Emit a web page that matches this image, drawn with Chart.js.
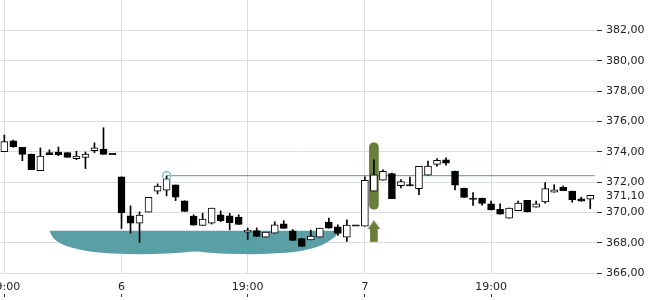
<!DOCTYPE html>
<html>
<head>
<meta charset="utf-8">
<script src="https://cdn.jsdelivr.net/npm/chart.js@4.4.1/dist/chart.umd.min.js"></script>
<style>
  html, body { margin: 0; padding: 0; background: #fff; }
  #wrap { width: 650px; height: 300px; }
</style>
</head>
<body>
<div id="wrap"><canvas id="chart"></canvas></div>
<script>
// candles, one per period, index = position on the x axis
const opens  = [374.01, 374.72, 374.30, 373.86, 372.76, 373.95, 373.99, 373.95, 373.55, 373.64,
                374.08, 374.19, 373.86, 372.35, 369.78, 369.30, 370.03, 371.41, 371.47, 371.82,
                370.77, 369.76, 369.15, 369.30, 369.85, 369.78, 369.70, 368.71, 368.82, 368.38,
                368.64, 369.26, 368.80, 368.29, 368.20, 368.38, 369.37, 369.06, 368.38, 369.15,
                369.10, 371.41, 372.13, 372.57, 371.78, 371.80, 371.58, 372.46, 373.18, 373.47,
                372.74, 371.60, 370.91, 370.96, 370.57, 370.22, 369.63, 370.13, 370.81, 370.36,
                370.70, 371.34, 371.67, 371.41, 370.90, 370.88];
const highs  = [375.11, 374.78, 374.30, 373.86, 374.26, 374.13, 374.32, 373.95, 374.04, 373.99,
                374.59, 375.59, 373.86, 372.35, 370.44, 370.05, 371.01, 371.89, 372.41, 371.82,
                370.77, 369.85, 369.96, 370.29, 370.11, 369.95, 369.85, 368.97, 368.99, 368.71,
                369.39, 369.47, 368.88, 368.29, 368.84, 368.97, 369.63, 369.19, 369.52, 369.15,
                372.35, 373.47, 372.81, 372.60, 372.17, 372.33, 373.05, 373.40, 373.55, 373.60,
                372.74, 371.62, 371.32, 370.96, 370.75, 370.57, 370.29, 370.75, 370.81, 370.75,
                371.97, 371.84, 371.76, 371.41, 371.01, 371.14];
const lows   = [374.01, 374.30, 373.42, 372.83, 372.76, 373.82, 373.75, 373.64, 373.49, 372.90,
                373.95, 373.84, 373.86, 368.95, 368.64, 368.03, 370.03, 371.23, 371.10, 370.79,
                370.07, 369.17, 369.15, 369.24, 369.40, 368.86, 369.21, 368.20, 368.42, 368.38,
                368.64, 368.95, 368.16, 367.76, 368.20, 368.38, 368.97, 368.49, 368.09, 369.15,
                369.10, 371.41, 372.13, 370.92, 371.62, 371.76, 371.18, 372.46, 373.05, 373.12,
                371.49, 370.99, 370.47, 370.49, 370.18, 369.89, 369.63, 370.13, 370.04, 370.36,
                370.62, 371.34, 371.45, 370.68, 370.75, 370.26];
const closes = [374.67, 374.35, 373.84, 372.83, 373.73, 373.82, 373.82, 373.64, 373.73, 373.86,
                374.26, 373.84, 373.86, 370.00, 369.30, 369.83, 371.01, 371.74, 372.22, 371.01,
                370.07, 369.17, 369.57, 370.29, 369.47, 369.34, 369.21, 368.84, 368.42, 368.71,
                369.19, 368.95, 368.16, 367.76, 368.45, 368.97, 368.97, 368.62, 369.17, 369.15,
                372.13, 372.48, 372.72, 370.92, 372.04, 371.80, 373.05, 373.07, 373.45, 373.25,
                371.80, 370.99, 370.91, 370.60, 370.18, 369.89, 370.29, 370.62, 370.04, 370.57,
                371.58, 371.49, 371.45, 370.84, 370.75, 371.14];

// x axis labels sit on these candle indexes
const tickIndexes = [0, 13, 27, 40, 54];
const tickLabels  = ['19:00', '6', '19:00', '7', '19:00'];
const priceTicks  = [366, 368, 370, 371.1, 372, 374, 376, 378, 380, 382];

// horizontal level + its anchor
const levelPrice = 372.43;
const levelFrom = 18;
const levelTo = 65.5;

// teal zone: flat top, lower edge
const zoneTop = 368.80;
const zoneX = [4.99, 5.44, 6.18, 7.65, 9.51, 12.09, 15.05, 18.01, 19.86, 21.15,
               22.45, 24.67, 27.62, 30.58, 33.17, 35.02, 36.13, 36.87, 37.13];
const zoneY = [368.80, 368.32, 367.99, 367.66, 367.43, 367.30, 367.26, 367.30, 367.37, 367.43,
               367.37, 367.28, 367.26, 367.33, 367.50, 367.81, 368.16, 368.53, 368.80];

// green signal bar and arrow
const signalIndex = 41;
const signalBar = [370.22, 374.60];
const arrowStem = [368.09, 368.95];
const arrowHead = 369.19;

const GREEN = '#6a7e3b';

const bodies = opens.map((o, i) => {
    const c = closes[i];
    if (Math.abs(c - o) < 0.05) {
        const m = (o + c) / 2;
        return { x: i, y: [m - 0.04, m + 0.04] };
    }
    return { x: i, y: [o, c] };
});
const bodyColors = opens.map((o, i) => (closes[i] - o >= 0.05 ? '#ffffff' : '#000000'));
const wicks = highs.map((h, i) => ({ x: i, y: [lows[i], h] }));

// arrow head picture
const head = document.createElement('canvas');
head.width = 13;
head.height = 9;
const hctx = head.getContext('2d');
hctx.fillStyle = GREEN;
hctx.beginPath();
hctx.moveTo(0, 9);
hctx.lineTo(6.5, 0);
hctx.lineTo(13, 9);
hctx.closePath();
hctx.fill();

function fmtPrice(v) {
    return Number(v).toFixed(2).replace('.', ',');
}

function xTicks(s) {
    s.ticks = tickIndexes.map(v => ({ value: v }));
}

Chart.defaults.font.family = 'DejaVu Sans';
Chart.defaults.font.size = 11;
Chart.defaults.color = '#222';

const ctx = document.getElementById('chart').getContext('2d');
new Chart(ctx, {
    type: 'bar',
    data: {
        datasets: [
            {
                type: 'line',
                data: [{ x: levelFrom, y: levelPrice }, { x: levelTo, y: levelPrice }],
                borderColor: '#4f9aa1',
                borderWidth: 1,
                pointRadius: 0,
                order: 4
            },
            {
                type: 'line',
                showLine: false,
                data: [{ x: levelFrom, y: levelPrice }],
                pointRadius: 4,
                borderColor: '#8ec0c4',
                borderWidth: 1.5,
                backgroundColor: 'rgba(0,0,0,0)',
                order: 0
            },
            {
                data: bodies,
                backgroundColor: bodyColors,
                borderColor: '#000',
                borderWidth: 1,
                borderSkipped: false,
                barThickness: 7,
                grouped: false,
                order: 1
            },
            {
                data: wicks,
                backgroundColor: '#000',
                barThickness: 1,
                grouped: false,
                order: 2
            },
            {
                data: [{ x: signalIndex, y: signalBar }],
                backgroundColor: GREEN,
                borderRadius: 5,
                borderSkipped: false,
                barThickness: 9,
                grouped: false,
                order: 3
            },
            {
                data: [{ x: signalIndex, y: arrowStem }],
                backgroundColor: GREEN,
                barThickness: 7,
                grouped: false,
                order: 3
            },
            {
                type: 'line',
                showLine: false,
                data: [{ x: signalIndex, y: arrowHead }],
                pointStyle: head,
                pointRadius: 5,
                order: 3
            },
            {
                type: 'line',
                data: zoneX.map((x, i) => ({ x: x, y: zoneY[i] })),
                backgroundColor: '#5a9fa6',
                borderWidth: 0,
                pointRadius: 0,
                cubicInterpolationMode: 'monotone',
                fill: { value: zoneTop },
                order: 10
            }
        ]
    },
    options: {
        responsive: true,
        maintainAspectRatio: false,
        animation: false,
        layout: { padding: 0, autoPadding: false },
        plugins: {
            legend: { display: false },
            tooltip: { enabled: false }
        },
        scales: {
            x: {
                type: 'linear',
                position: 'bottom',
                weight: 0,
                min: -0.48,
                max: 65.75,
                offset: false,
                border: { display: false },
                grid: { color: '#dcdcdc', drawTicks: false, offset: false },
                ticks: {
                    padding: 7,
                    autoSkip: false,
                    maxRotation: 0,
                    callback: v => {
                        const k = tickIndexes.indexOf(v);
                        return k >= 0 ? tickLabels[k] : '';
                    }
                },
                afterBuildTicks: xTicks,
                afterFit: s => { s.paddingLeft = 0; s.paddingRight = 0; s.height = 20; }
            },
            x2: {
                type: 'linear',
                position: 'bottom',
                weight: 1,
                min: -0.48,
                max: 65.75,
                offset: false,
                border: { display: false },
                grid: { drawOnChartArea: false, offset: false, tickLength: 3, tickColor: '#333' },
                ticks: { font: { size: 1 }, padding: 0, autoSkip: false, maxRotation: 0, callback: () => '' },
                afterBuildTicks: xTicks,
                afterFit: s => { s.paddingLeft = 0; s.paddingRight = 0; s.height = 6; }
            },
            y: {
                type: 'linear',
                position: 'right',
                min: 365.95,
                max: 384.01,
                border: { display: false },
                grid: {
                    color: c => (c.tick && c.tick.value === 371.1 ? 'rgba(0,0,0,0)' : '#dcdcdc'),
                    tickColor: c => (c.tick && c.tick.value === 371.1 ? 'rgba(0,0,0,0)' : '#333'),
                    tickLength: 5
                },
                ticks: {
                    padding: 4,
                    autoSkip: false,
                    callback: v => fmtPrice(v)
                },
                afterBuildTicks: s => { s.ticks = priceTicks.map(v => ({ value: v })); },
                afterFit: s => { s.width = 53; s.paddingTop = 0; s.paddingBottom = 0; }
            }
        }
    }
});
</script>
</body>
</html>
